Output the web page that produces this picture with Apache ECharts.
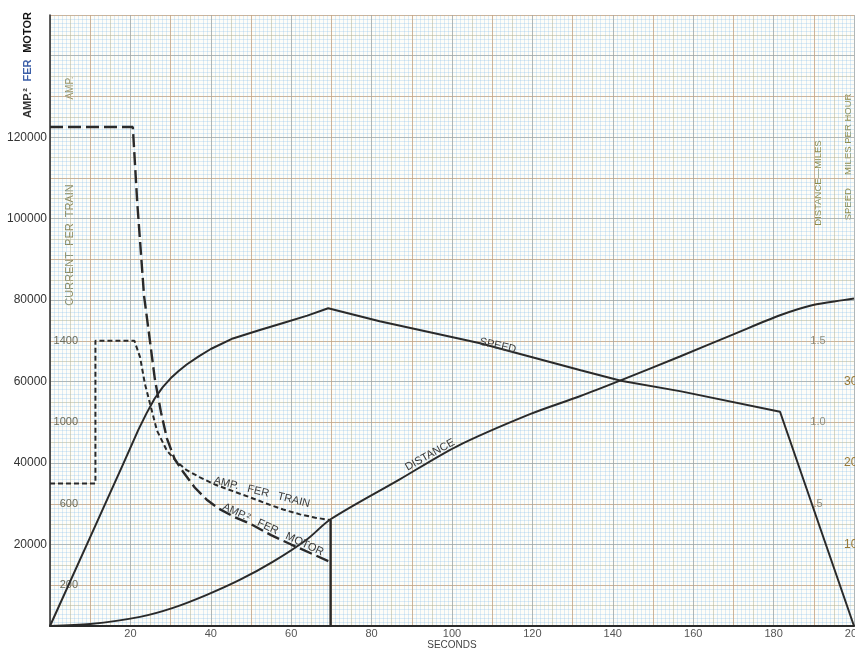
<!DOCTYPE html>
<html>
<head>
<meta charset="utf-8">
<script src="https://cdn.jsdelivr.net/npm/echarts@6/dist/echarts.min.js"></script>
<style>
html,body{margin:0;padding:0;background:#fff;}
#chart{width:855px;height:650px;}
</style>
</head>
<body>
<div id="chart"></div>
<script>
// ---- data ----
// Time in seconds
var motorT = [0, 20.6, 21.7, 23.4, 24.4, 26.1, 27.6, 29.1, 31, 33, 36, 39, 42, 46, 50, 55, 60, 65, 69.8];
// AMP.^2 per motor
var motorV = [122500, 122500, 104000, 81000, 73500, 60500, 52500, 46000, 41000, 38000, 34000, 31000, 28800, 26700, 25000, 22300, 20000, 17800, 15700];

var trainT = [0, 11.3, 11.3, 21.0, 22.4, 23.6, 24.9, 26.6, 29.1, 31.6, 34, 37.3, 41, 45.5, 50, 54, 58, 62.2, 66, 69.8];
// Amperes per train
var trainA = [700, 700, 1400, 1400, 1320, 1190, 1090, 960, 860, 805, 765, 730, 695, 662, 630, 600, 572, 548, 532, 520];

// power cut-off
var cutT = [69.8, 69.8];
var cutA = [520, 0];

var speedT = [0, 10, 18.3, 22, 24, 26, 28, 30, 32, 34, 37, 40, 45.5, 52, 58, 64, 69.2, 82, 107, 132, 142, 157, 181.6, 200];
// miles per hour
var speedV = [0, 10.9, 20, 24.1, 26.1, 27.9, 29.3, 30.4, 31.3, 32.1, 33.1, 34.0, 35.3, 36.3, 37.2, 38.1, 39, 37.4, 34.7, 31.4, 30.1, 28.8, 26.3, 0];

var distT = [0, 10, 22.4, 30.6, 39, 47.3, 55.5, 63.9, 69.8, 87, 101, 119.4, 131.8, 141.8, 156.7, 170, 181.6, 189.8, 197.3, 200];
// miles
var distV = [0, 0.012, 0.056, 0.111, 0.191, 0.284, 0.395, 0.531, 0.655, 0.90, 1.10, 1.30, 1.41, 1.506, 1.654, 1.79, 1.907, 1.97, 2.0, 2.01];

// tick labels
var xTicks = [20, 40, 60, 80, 100, 120, 140, 160, 180, 200];
var motorTicks = [20000, 40000, 60000, 80000, 100000, 120000];
var trainTicks = [200, 600, 1000, 1400];
var speedTicks = [10, 20, 30];
var distTicks = [0.5, 1.0, 1.5];
var distTickText = ['.5', '1.0', '1.5'];

// curve captions [text, t, value]
var speedCap = ['SPEED', 111.4, 34.4];
var distCap = ['DISTANCE', 94.5, 1.05];
var trainCap = ['AMP.   FER   TRAIN', 52.7, 657];
var motorCap = ['AMP.²   FER   MOTOR', 55.5, 23700];

function zip(a, b) { return a.map(function (v, i) { return [v, b[i]]; }); }
function near(v, list) { for (var i = 0; i < list.length; i++) { if (Math.abs(v - list[i]) < 1e-6) return i; } return -1; }

var INK = '#2a2a2a';
var FONT = 'Liberation Sans, Arial, sans-serif';
var hid = { axisLine: { show: false }, axisTick: { show: false }, axisLabel: { show: false } };
function gridAxis(extra, color, width) {
  return Object.assign({
    type: 'value', splitLine: { show: true, lineStyle: { color: color, width: width || 1 } }
  }, hid, extra);
}

function caption(c, rot) {
  return {
    symbol: 'rect', symbolSize: 1, silent: true,
    itemStyle: { color: 'rgba(0,0,0,0)' },
    label: { show: true, position: 'inside', rotate: rot, formatter: c[0],
      color: '#3a3a3a', fontSize: 11, fontFamily: FONT },
    data: [{ coord: [c[1], c[2]] }]
  };
}

var chart = echarts.init(document.getElementById('chart'), null, { renderer: 'canvas' });

var MAJ = ['rgba(110,140,200,0.6)', 'rgba(220,130,90,0.6)'];
var MID = 'rgba(235,180,90,0.4)';
var FIN = 'rgba(120,185,230,0.25)';

var option = {
  animation: false,
  backgroundColor: '#ffffff',
  grid: { left: 50, right: 1, top: 15, bottom: 24, show: true, backgroundColor: '#fefdf8', borderWidth: 0,
          outerBoundsMode: 'none', containLabel: false },
  xAxis: [
    { type: 'value', min: 0, max: 200, interval: 20, position: 'bottom',
      axisLine: { show: true, lineStyle: { color: INK, width: 1.5 } },
      axisTick: { show: false }, splitLine: { show: false },
      axisLabel: { margin: 2, color: '#555', fontSize: 11, fontFamily: FONT,
        formatter: function (v) { return near(v, xTicks) >= 0 ? String(v) : ''; } },
      name: 'SECONDS', nameLocation: 'middle', nameGap: 14, nameMoveOverlap: false,
      nameTextStyle: { color: '#444', fontSize: 10, fontFamily: FONT, verticalAlign: 'top' } },
    { type: 'value', min: 0, max: 200, interval: 10, position: 'top',
      axisLine: { show: true, lineStyle: { color: INK, width: 2 } }, axisTick: { show: false }, axisLabel: { show: false },
      splitLine: { show: true, lineStyle: { color: MAJ, width: 1 } } },
    gridAxis({ min: 0, max: 200, interval: 5 }, MID),
    gridAxis({ min: 0, max: 200, interval: 1 }, FIN)
  ],
  yAxis: [
    { type: 'value', min: 0, max: 150000, interval: 20000, position: 'left',
      axisLine: { show: true, lineStyle: { color: INK, width: 1.5 } }, axisTick: { show: false }, splitLine: { show: false },
      axisLabel: { margin: 3, color: '#333', fontSize: 12, fontFamily: FONT,
        formatter: function (v) { return near(v, motorTicks) >= 0 ? String(v) : ''; } } },
    gridAxis({ min: 0, max: 150000, interval: 10000, position: 'left' }, MAJ),
    gridAxis({ min: 0, max: 150000, interval: 5000, position: 'left' }, MID),
    gridAxis({ min: 0, max: 150000, interval: 1000, position: 'left' }, FIN),
    // amperes per train (label axis inside plot)
    { type: 'value', min: 0, max: 3000, interval: 200, position: 'left', offset: -30,
      axisLine: { show: false }, axisTick: { show: false }, splitLine: { show: false },
      axisLabel: { margin: 2, color: '#6a6a5a', fontSize: 11, fontFamily: FONT,
        formatter: function (v) { return near(v, trainTicks) >= 0 ? String(v) : ''; } } },
    // speed mph
    { type: 'value', min: 0, max: 75, interval: 10, position: 'right',
      axisLine: { show: false }, axisTick: { show: false }, splitLine: { show: false },
      axisLabel: { margin: -10, color: '#9a7a35', fontSize: 12, fontFamily: FONT,
        formatter: function (v) { return near(v, speedTicks) >= 0 ? String(v) : ''; } } },
    // distance label scale
    { type: 'value', min: -0.25, max: 3.5, interval: 0.25, position: 'right', offset: -36,
      axisLine: { show: false }, axisTick: { show: false }, splitLine: { show: false },
      axisLabel: { margin: 0, align: 'center', color: '#8f8f80', fontSize: 11, fontFamily: FONT,
        formatter: function (v) { var i = near(v, distTicks); return i >= 0 ? distTickText[i] : ''; } } },
    // distance data scale
    Object.assign({ type: 'value', min: 0, max: 3.75, position: 'right', splitLine: { show: false } }, hid)
  ],
  series: [
    { type: 'line', name: 'motor', xAxisIndex: 0, yAxisIndex: 0, data: zip(motorT, motorV), symbol: 'none',
      lineStyle: { color: INK, width: 2.4, type: [13, 5] }, markPoint: caption(motorCap, -25) },
    { type: 'line', name: 'train', xAxisIndex: 0, yAxisIndex: 4, data: zip(trainT, trainA), symbol: 'none',
      lineStyle: { color: INK, width: 2, type: [5, 3] }, markPoint: caption(trainCap, -14) },
    { type: 'line', name: 'cutoff', xAxisIndex: 0, yAxisIndex: 4, data: zip(cutT, cutA), symbol: 'none',
      lineStyle: { color: INK, width: 2.4 } },
    { type: 'line', name: 'speed', xAxisIndex: 0, yAxisIndex: 5, data: zip(speedT, speedV), symbol: 'none',
      lineStyle: { color: INK, width: 2 }, markPoint: caption(speedCap, -13) },
    { type: 'line', name: 'distance', xAxisIndex: 0, yAxisIndex: 7, data: zip(distT, distV), symbol: 'none', smooth: 0.3,
      lineStyle: { color: INK, width: 2 }, markPoint: caption(distCap, 29) }
  ],
  graphic: [
    { type: 'text', x: 28, y: 65, rotation: Math.PI / 2, silent: true,
      style: { text: '{a|AMP.²}  {b|FER}  {m|MOTOR}', align: 'center', verticalAlign: 'middle',
        rich: { a: { fill: '#333', fontSize: 11, fontWeight: 'bold', fontFamily: FONT },
                b: { fill: '#3b5ea8', fontSize: 11, fontWeight: 'bold', fontFamily: FONT },
                m: { fill: '#111', fontSize: 11, fontWeight: 'bold', fontFamily: FONT } } } },
    { type: 'text', x: 70, y: 88, rotation: Math.PI / 2, silent: true,
      style: { text: 'AMP.', align: 'center', verticalAlign: 'middle', fill: '#9a9466', font: '10px ' + FONT } },
    { type: 'text', x: 70, y: 245, rotation: Math.PI / 2, silent: true,
      style: { text: 'CURRENT  PER  TRAIN', align: 'center', verticalAlign: 'middle', fill: '#8d8a5c', font: '11px ' + FONT } },
    { type: 'text', x: 818, y: 183, rotation: Math.PI / 2, silent: true,
      style: { text: 'DISTANCE—MILES', align: 'center', verticalAlign: 'middle', fill: '#8f8a45', font: '9.5px ' + FONT } },
    { type: 'text', x: 848, y: 157, rotation: Math.PI / 2, silent: true,
      style: { text: 'SPEED     MILES PER HOUR', align: 'center', verticalAlign: 'middle', fill: '#8f8a45', font: '9.5px ' + FONT } }
  ]
};
chart.setOption(option);
</script>
</body>
</html>
